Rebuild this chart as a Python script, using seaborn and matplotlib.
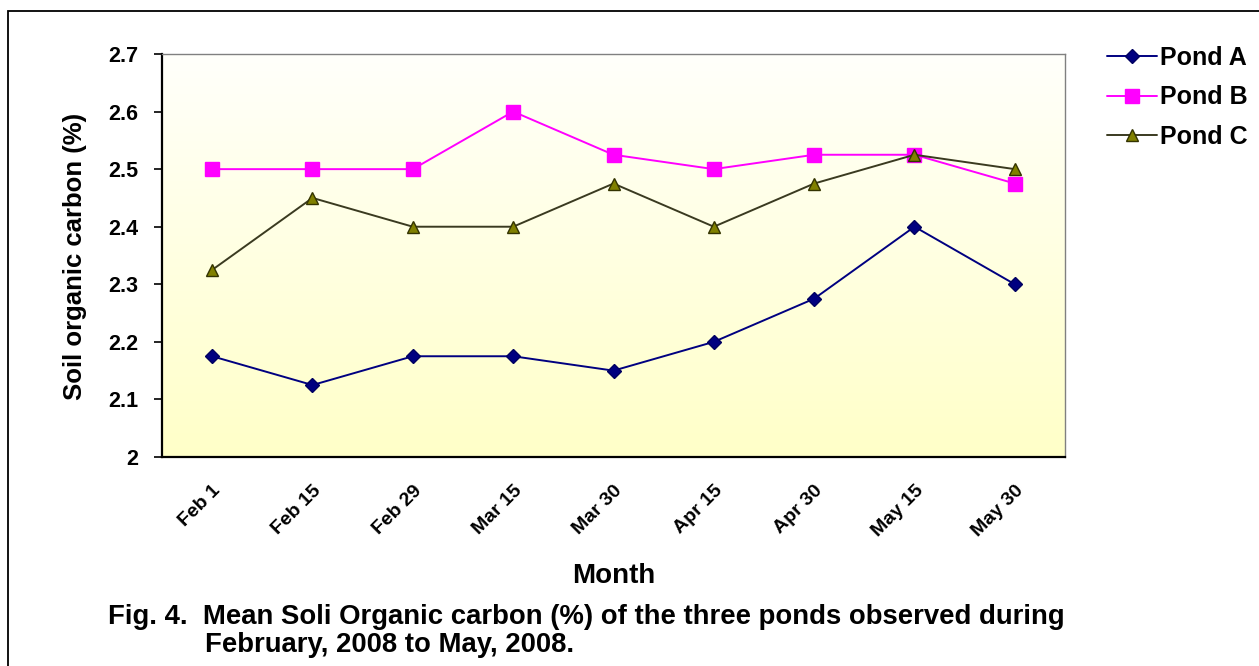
import numpy as np
import pandas as pd
import matplotlib
matplotlib.use("Agg")
import matplotlib.pyplot as plt
import seaborn as sns
from matplotlib.colors import LinearSegmentedColormap

# Sampling dates and mean soil organic carbon (%) per pond
dates = ["Feb 1", "Feb 15", "Feb 29", "Mar 15", "Mar 30",
         "Apr 15", "Apr 30", "May 15", "May 30"]
pond_a = [2.175, 2.125, 2.175, 2.175, 2.15, 2.2, 2.275, 2.4, 2.3]
pond_b = [2.5, 2.5, 2.5, 2.6, 2.525, 2.5, 2.525, 2.525, 2.475]
pond_c = [2.325, 2.45, 2.4, 2.4, 2.475, 2.4, 2.475, 2.525, 2.5]
y_ticks = [2.0, 2.1, 2.2, 2.3, 2.4, 2.5, 2.6, 2.7]
y_tick_labels = ["2", "2.1", "2.2", "2.3", "2.4", "2.5", "2.6", "2.7"]

sns.set_theme(style="white")
plt.rcParams["font.family"] = ["Liberation Sans", "DejaVu Sans"]
plt.rcParams["font.weight"] = "bold"
plt.rcParams["text.color"] = "black"
plt.rcParams["axes.labelcolor"] = "black"
plt.rcParams["xtick.color"] = "black"
plt.rcParams["ytick.color"] = "black"

W, H = 1259, 666
fig = plt.figure(figsize=(W / 100, H / 100), dpi=100)
fig.patch.set_facecolor("white")

# plot area in pixel coordinates: left 162, right 1065, top 54, bottom 457
ax = fig.add_axes([162 / W, 1 - 457 / H, (1065 - 162) / W, (457 - 54) / H])

# soft vertical gradient: near-white at top, pale yellow at bottom
grad = np.linspace(0, 1, 256).reshape(-1, 1)
cmap = LinearSegmentedColormap.from_list("bg", ["#fffffb", "#ffffc8"])
ax.imshow(grad, cmap=cmap, aspect="auto", extent=[0, 1, 0, 1],
          transform=ax.transAxes, zorder=0, origin="upper")

x = np.arange(len(dates))
series = [
    ("Pond A", pond_a, dict(color="#000080", marker="D", markersize=7,
                            markerfacecolor="#000080", markeredgecolor="#000060")),
    ("Pond B", pond_b, dict(color="#ff00ff", marker="s", markersize=9.5,
                            markerfacecolor="#ff00ff", markeredgecolor="#ff00ff")),
    ("Pond C", pond_c, dict(color="#3a3a20", marker="^", markersize=9,
                            markerfacecolor="#808000", markeredgecolor="#333300")),
]
for name, vals, style in series:
    df = pd.DataFrame({"x": x, "y": vals})
    sns.lineplot(data=df, x="x", y="y", ax=ax, label=name, linewidth=1.4,
                 markeredgewidth=1.0, zorder=3, **style)

ax.set_xlim(-0.5, len(dates) - 0.5)
ax.set_ylim(2.0, 2.7)
ax.set_yticks(y_ticks)
ax.set_yticklabels(y_tick_labels, fontsize=15.5, fontweight="bold")
ax.set_xticks(x)
ax.set_xticklabels(dates, rotation=45, ha="right", rotation_mode="anchor",
                   fontsize=14, fontweight="bold")
# category ticks sit between the categories
ax.set_xticks(np.arange(-0.5, len(dates)), minor=True)
ax.tick_params(axis="x", which="major", length=0, pad=18)
ax.tick_params(axis="x", which="minor", length=6, width=1.2, direction="out",
               color="black")
ax.tick_params(axis="y", which="major", length=6, width=1.2, direction="out",
               color="black", left=True, pad=11)

for side in ["left", "bottom"]:
    ax.spines[side].set_color("black")
    ax.spines[side].set_linewidth(1.6)
for side in ["top", "right"]:
    ax.spines[side].set_color("#808080")
    ax.spines[side].set_linewidth(1.0)

ax.set_xlabel("")
ax.set_ylabel("")
fig.text(75 / W, 1 - 256 / H, "Soil organic carbon (%)", rotation=90,
         ha="center", va="center", fontsize=18.5, fontweight="bold")

leg = ax.legend(loc="upper left", bbox_to_anchor=(1107 / W, 1 - 46 / H),
                bbox_transform=fig.transFigure, frameon=False,
                prop={"size": 18, "weight": "bold"}, handlelength=2.0,
                handletextpad=0.1, labelspacing=0.62, borderaxespad=0,
                borderpad=0)

fig.text(614 / W, 1 - 576 / H, "Month", ha="center", va="center",
         fontsize=20, fontweight="bold")
fig.text(108 / W, 1 - 617 / H,
         "Fig. 4.  Mean Soli Organic carbon (%) of the three ponds observed during",
         ha="left", va="center", fontsize=19.8, fontweight="bold")
fig.text(205 / W, 1 - 645 / H, "February, 2008 to May, 2008.",
         ha="left", va="center", fontsize=19.8, fontweight="bold")

# outer frame around the figure (right and bottom edges run past the canvas)
frame = plt.Rectangle((8 / W, -0.05), 1.2, 1 - 11 / H + 0.05,
                      transform=fig.transFigure, fill=False,
                      edgecolor="black", linewidth=1.3, zorder=10)
fig.patches.append(frame)

fig.savefig("out.png", dpi=100, facecolor="white")
